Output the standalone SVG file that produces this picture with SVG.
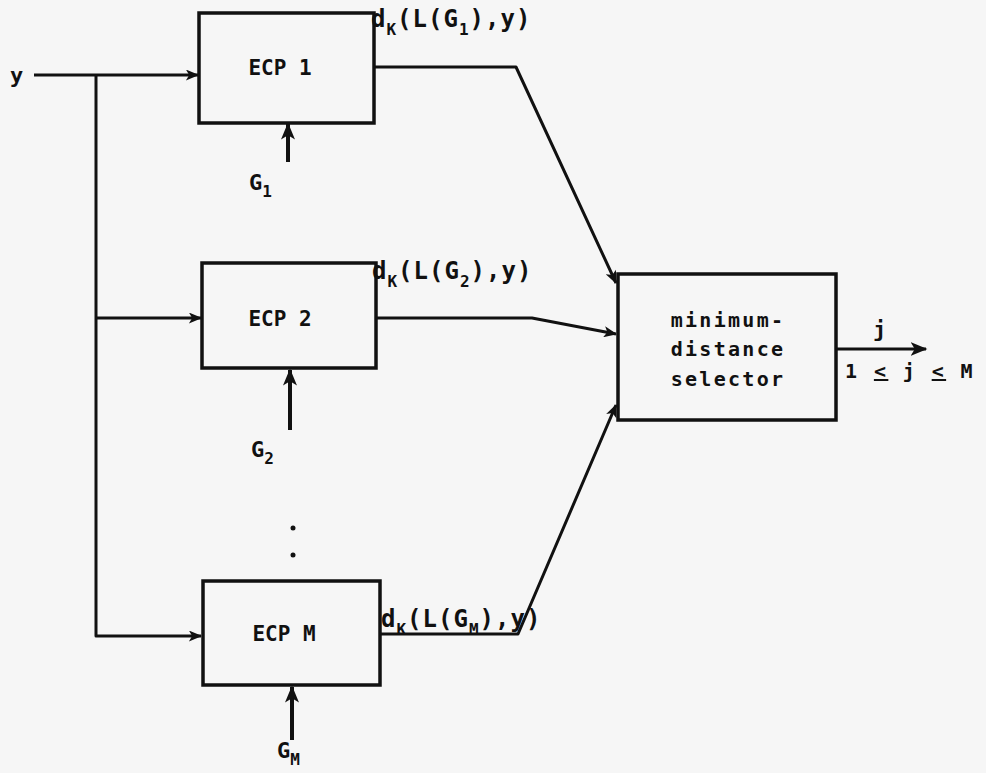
<svg xmlns="http://www.w3.org/2000/svg" width="986" height="773" viewBox="0 0 986 773">
<defs>
<marker id="ah" viewBox="0 0 12 10" refX="11" refY="5" markerWidth="15" markerHeight="11" markerUnits="userSpaceOnUse" orient="auto">
<path d="M0,0 L12,5 L0,10 L3,5 z" fill="#111"/>
</marker>
<marker id="ahb" viewBox="0 0 12 10" refX="11" refY="5" markerWidth="17" markerHeight="14" markerUnits="userSpaceOnUse" orient="auto">
<path d="M0,0 L12,5 L0,10 L3,5 z" fill="#111"/>
</marker>
<style>
.box{fill:none;stroke:#111;stroke-width:3.5}
.ln{fill:none;stroke:#111;stroke-width:3;stroke-linejoin:round}
.in{fill:none;stroke:#111;stroke-width:4}
.t{font-family:"DejaVu Sans Mono","Liberation Mono",monospace;font-weight:bold;fill:#111}
.lab{font-size:21px}
.big{font-size:22px}
.dk{font-size:24px;letter-spacing:1px}
.sub{font-size:16px}
.sel{font-size:20px;letter-spacing:2.3px}
.rng{font-size:20px;letter-spacing:2.4px}
</style>
</defs>
<rect width="986" height="773" fill="#f6f6f6"/>
<g id="connectors">
<path class="ln" d="M34,75 H198" marker-end="url(#ah)"/>
<path class="ln" d="M96,75 V636 H201" marker-end="url(#ah)"/>
<path class="ln" d="M96,318 H201" marker-end="url(#ah)"/>
<path class="ln" d="M374,67 H516 L616,283" marker-end="url(#ah)"/>
<path class="ln" d="M376,318 H532 L616,334" marker-end="url(#ah)"/>
<path class="ln" d="M380,634 H518 L616,405" marker-end="url(#ah)"/>
<path class="ln" d="M836,349 H926" marker-end="url(#ahb)"/>
<path class="in" d="M288,162 V124" marker-end="url(#ahb)"/>
<path class="in" d="M290,430 V370" marker-end="url(#ahb)"/>
<path class="in" d="M292,740 V687" marker-end="url(#ahb)"/>
</g>
<g id="input-y"><text class="t big" x="10" y="83">y</text></g>
<g id="ecp1">
<rect class="box" x="199" y="13" width="175" height="110"/>
<text class="t lab" x="280" y="75" text-anchor="middle">ECP 1</text>
</g>
<g id="g1"><text class="t big" x="249" y="190">G<tspan class="sub" dy="7">1</tspan></text></g>
<g id="d1"><text class="t dk" x="371" y="27">d<tspan class="sub" dy="8">K</tspan><tspan dy="-8">(L(G</tspan><tspan class="sub" dy="8">1</tspan><tspan dy="-8">),y)</tspan></text></g>
<g id="ecp2">
<rect class="box" x="202" y="263" width="174" height="105"/>
<text class="t lab" x="280" y="326" text-anchor="middle">ECP 2</text>
</g>
<g id="g2"><text class="t big" x="251" y="457">G<tspan class="sub" dy="7">2</tspan></text></g>
<g id="d2"><text class="t dk" x="372" y="279">d<tspan class="sub" dy="8">K</tspan><tspan dy="-8">(L(G</tspan><tspan class="sub" dy="8">2</tspan><tspan dy="-8">),y)</tspan></text></g>
<g id="dots">
<circle cx="293" cy="528" r="2.5" fill="#111"/>
<circle cx="293" cy="555" r="2.5" fill="#111"/>
</g>
<g id="ecpm">
<rect class="box" x="203" y="581" width="177" height="104"/>
<text class="t lab" x="284" y="641" text-anchor="middle">ECP M</text>
</g>
<g id="gm"><text class="t big" x="277" y="758">G<tspan class="sub" dy="7">M</tspan></text></g>
<g id="dm"><text class="t dk" x="381" y="627">d<tspan class="sub" dy="8">K</tspan><tspan dy="-8">(L(G</tspan><tspan class="sub" dy="8">M</tspan><tspan dy="-8">),y)</tspan></text></g>
<g id="selector">
<rect class="box" x="618" y="274" width="218" height="146"/>
<text class="t sel" x="728" y="327" text-anchor="middle">minimum-</text>
<text class="t sel" x="728" y="356" text-anchor="middle">distance</text>
<text class="t sel" x="728" y="386" text-anchor="middle">selector</text>
</g>
<g id="output">
<text class="t big" x="873" y="337">j</text>
<text class="t rng" x="845" y="378">1 <tspan text-decoration="underline">&lt;</tspan> j <tspan text-decoration="underline">&lt;</tspan> M</text>
</g>
</svg>
